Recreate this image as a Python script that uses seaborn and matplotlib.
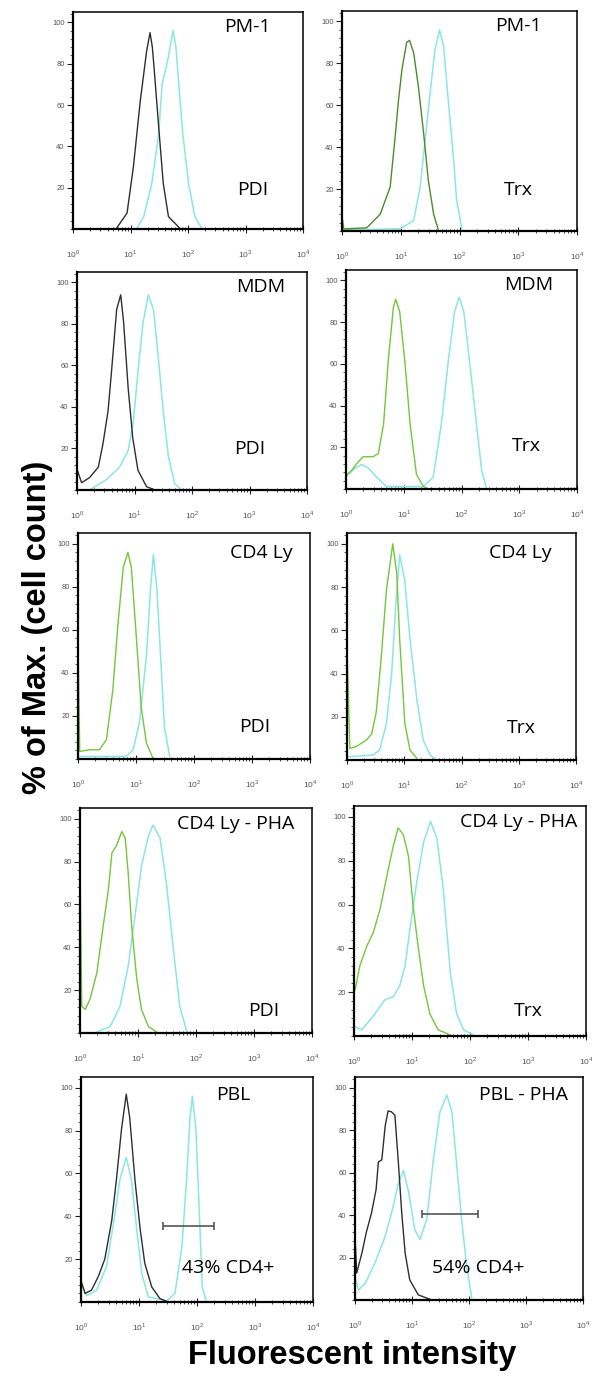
import numpy as np
import matplotlib
matplotlib.use("Agg")
import matplotlib.pyplot as plt
from matplotlib.ticker import LogLocator, NullFormatter, MultipleLocator
import seaborn as sns

# x values are in decades of fluorescence (log10), y values are % of max

# PM-1 / PDI
pm1_pdi_ctrl_dec = [0.76, 0.94, 1.05, 1.17, 1.28, 1.34, 1.38, 1.41, 1.50, 1.57, 1.66, 1.86]
pm1_pdi_ctrl_pct = [0.5, 7.7, 30, 62, 86, 95, 88, 78, 46, 22, 6, 0.3]
pm1_pdi_stain_dec = [1.11, 1.23, 1.37, 1.49, 1.55, 1.65, 1.74, 1.79, 1.84, 1.91, 2.01,
                     2.12, 2.24]
pm1_pdi_stain_pct = [0.3, 6, 22, 46, 70, 82, 96, 88, 70, 46, 22, 6, 0.3]

# PM-1 / Trx
pm1_trx_ctrl_dec = [0.0, 0.03, 0.42, 0.65, 0.82, 0.91, 0.96, 1.02, 1.10, 1.15, 1.22,
                    1.30, 1.39, 1.47, 1.56, 1.64]
pm1_trx_ctrl_pct = [7, 1, 1.5, 8, 21, 46.5, 62, 77, 90, 91, 85, 69, 46.5, 24, 8, 0.5]
pm1_trx_stain_dec = [0.0, 0.99, 1.22, 1.33, 1.41, 1.50, 1.58, 1.66, 1.73, 1.81, 1.90,
                     1.95, 2.04]
pm1_trx_stain_pct = [0.5, 1, 5, 21, 42, 66, 86, 96, 88, 62, 34, 15, 1]

# MDM / PDI
mdm_pdi_ctrl_dec = [0.0, 0.08, 0.22, 0.37, 0.45, 0.54, 0.60, 0.69, 0.76, 0.81, 0.89,
                    0.97, 1.06, 1.21, 1.33]
mdm_pdi_ctrl_pct = [10, 3.5, 6, 11, 22, 38, 57, 87, 94, 81, 49, 25, 9.5, 1.6, 0.3]
mdm_pdi_stain_dec = [0.22, 0.51, 0.74, 0.89, 0.98, 1.06, 1.15, 1.24, 1.33, 1.41, 1.50,
                     1.59, 1.70, 1.81]
mdm_pdi_stain_pct = [0, 5, 11, 19, 33, 57, 81, 94, 87, 65, 38, 16, 3, 0.3]

# MDM / Trx
mdm_trx_ctrl_dec = [0.02, 0.10, 0.21, 0.30, 0.47, 0.56, 0.65, 0.73, 0.82, 0.86, 0.93,
                    1.02, 1.11, 1.22, 1.34, 1.42]
mdm_trx_ctrl_pct = [7, 9, 13, 15.5, 15.5, 17, 31, 61, 87, 91, 85, 61, 31, 7, 1.2, 0.2]
mdm_trx_stain_dec = [0.02, 0.16, 0.27, 0.39, 0.53, 0.70, 1.34, 1.51, 1.65, 1.77, 1.88,
                     1.96, 2.04, 2.14, 2.26, 2.35, 2.43]
mdm_trx_stain_pct = [6.5, 10, 11.7, 10, 5.7, 1.2, 1.2, 5.7, 31, 61, 85, 92, 85, 61, 31,
                     8.7, 0.5]

# CD4 Ly / PDI
cd4_pdi_ctrl_dec = [0.0, 0.03, 0.20, 0.37, 0.49, 0.60, 0.69, 0.78, 0.86, 0.92, 1.01,
                    1.09, 1.18, 1.29]
cd4_pdi_ctrl_pct = [54, 3.5, 4.3, 4.3, 9, 32, 63, 89, 96, 89, 55, 24, 7.4, 0.5]
cd4_pdi_stain_dec = [0.02, 0.83, 0.95, 1.06, 1.18, 1.25, 1.30, 1.36, 1.44, 1.49, 1.58]
cd4_pdi_stain_pct = [1.2, 1.2, 4.3, 17, 48, 79, 95, 79, 40, 15, 1.2]

# CD4 Ly / Trx
cd4_trx_ctrl_dec = [0.0, 0.05, 0.16, 0.34, 0.43, 0.51, 0.60, 0.69, 0.80, 0.87, 0.92,
                    1.01, 1.10, 1.22]
cd4_trx_ctrl_pct = [52, 5.4, 6.2, 9.3, 12, 22, 48, 79, 100, 86, 56, 17, 4.6, 0.8]
cd4_trx_stain_dec = [0.02, 0.46, 0.57, 0.69, 0.78, 0.85, 0.92, 1.01, 1.10, 1.22, 1.33,
                     1.45, 1.54]
cd4_trx_stain_pct = [1.5, 2.3, 4.6, 17, 40, 71, 95, 83, 56, 28, 9.3, 2.3, 0.5]

# CD4 Ly - PHA / PDI
pha_pdi_ctrl_dec = [0.0, 0.03, 0.09, 0.17, 0.29, 0.40, 0.49, 0.55, 0.63, 0.72, 0.78,
                    0.83, 0.89, 0.98, 1.06, 1.18, 1.32]
pha_pdi_ctrl_pct = [77, 12.5, 11, 15.6, 28, 50, 67, 84, 87.5, 94, 91, 75, 50, 25, 11,
                    3, 0.5]
pha_pdi_stain_dec = [0.29, 0.52, 0.69, 0.83, 0.95, 1.06, 1.18, 1.26, 1.38, 1.49, 1.61,
                     1.72, 1.84]
pha_pdi_stain_pct = [0.5, 3, 12.5, 31, 55, 78, 92, 97, 91, 70, 39, 12.5, 0.8]

# CD4 Ly - PHA / Trx
pha_trx_ctrl_dec = [0.02, 0.10, 0.22, 0.33, 0.45, 0.59, 0.68, 0.76, 0.85, 0.94, 1.02,
                    1.11, 1.20, 1.31, 1.45, 1.66]
pha_trx_ctrl_pct = [21, 32, 41, 47, 58, 76, 87, 95, 92, 82, 59, 40, 23, 10, 2.8, 0.5]
pha_trx_stain_dec = [0.02, 0.13, 0.33, 0.53, 0.68, 0.79, 0.88, 0.97, 1.08, 1.20, 1.32,
                     1.43, 1.54, 1.66, 1.77, 1.89, 2.06]
pha_trx_stain_pct = [4.3, 2.8, 9, 16.5, 18, 23, 32, 50, 70, 88.5, 98, 90, 67, 29, 10,
                     2.8, 0.5]

# PBL (CD4 gate)
pbl_ctrl_dec = [0.0, 0.07, 0.18, 0.30, 0.41, 0.53, 0.61, 0.70, 0.78, 0.84, 0.93, 1.02,
                1.10, 1.22, 1.36, 1.48]
pbl_ctrl_pct = [10, 4, 5.5, 12, 20, 38, 57, 81, 97, 86, 57, 34, 18, 7, 1.6, 0.3]
pbl_stain_dec = [0.0, 0.10, 0.27, 0.44, 0.59, 0.67, 0.78, 0.87, 0.96, 1.05, 1.16, 1.48,
                 1.62, 1.74, 1.82, 1.88, 1.92, 1.98, 2.04, 2.09, 2.16]
pbl_stain_pct = [8.6, 3, 5.5, 16.5, 42, 57, 67.5, 57, 34, 13, 2.4, 0.5, 4, 26, 57, 86,
                 96, 81, 42, 7, 0.3]

# PBL - PHA (CD4 gate)
pblpha_ctrl_dec = [0.0, 0.03, 0.12, 0.20, 0.29, 0.37, 0.41, 0.47, 0.53, 0.58, 0.64,
                   0.70, 0.76, 0.82, 0.88, 0.96, 1.11, 1.32]
pblpha_ctrl_pct = [30, 12.7, 22, 32, 41, 52, 65, 66, 82, 89, 88.6, 87, 65, 41, 22, 9.5,
                   2.4, 0.3]
pblpha_stain_dec = [0.0, 0.06, 0.18, 0.35, 0.53, 0.67, 0.76, 0.85, 0.94, 1.05, 1.14,
                    1.26, 1.37, 1.49, 1.61, 1.70, 1.78, 1.87, 1.96, 2.05]
pblpha_stain_pct = [11, 4.7, 7.9, 17.4, 30, 44, 55, 61, 51, 33, 28.5, 38, 65, 88.6,
                    96.5, 88.6, 65, 38, 15.8, 0.8]

# gates (start decade, end decade, height) and percentages
pbl_gate = [1.42, 2.29, 35.3]
pblpha_gate = [1.17, 2.16, 40.3]
gate_labels = ["43% CD4+", "54% CD4+"]

cell_labels = ["PM-1", "PM-1", "MDM", "MDM", "CD4 Ly", "CD4 Ly",
               "CD4 Ly - PHA", "CD4 Ly - PHA", "PBL", "PBL - PHA"]
stain_labels = ["PDI", "Trx", "PDI", "Trx", "PDI", "Trx", "PDI", "Trx", None, None]

CYAN = "#8ae6e4"
DARK = "#2e2e2e"
GREEN = "#74c63c"
OLIVE = "#4e8a2c"

panels = [
    (pm1_pdi_ctrl_dec, pm1_pdi_ctrl_pct, DARK, pm1_pdi_stain_dec, pm1_pdi_stain_pct),
    (pm1_trx_ctrl_dec, pm1_trx_ctrl_pct, OLIVE, pm1_trx_stain_dec, pm1_trx_stain_pct),
    (mdm_pdi_ctrl_dec, mdm_pdi_ctrl_pct, DARK, mdm_pdi_stain_dec, mdm_pdi_stain_pct),
    (mdm_trx_ctrl_dec, mdm_trx_ctrl_pct, GREEN, mdm_trx_stain_dec, mdm_trx_stain_pct),
    (cd4_pdi_ctrl_dec, cd4_pdi_ctrl_pct, GREEN, cd4_pdi_stain_dec, cd4_pdi_stain_pct),
    (cd4_trx_ctrl_dec, cd4_trx_ctrl_pct, GREEN, cd4_trx_stain_dec, cd4_trx_stain_pct),
    (pha_pdi_ctrl_dec, pha_pdi_ctrl_pct, GREEN, pha_pdi_stain_dec, pha_pdi_stain_pct),
    (pha_trx_ctrl_dec, pha_trx_ctrl_pct, GREEN, pha_trx_stain_dec, pha_trx_stain_pct),
    (pbl_ctrl_dec, pbl_ctrl_pct, DARK, pbl_stain_dec, pbl_stain_pct),
    (pblpha_ctrl_dec, pblpha_ctrl_pct, DARK, pblpha_stain_dec, pblpha_stain_pct),
]

# axes boxes in pixels (left, right, top, bottom) and label placements
W, H = 600, 1379
boxes = [(73, 303, 12, 229), (342, 577, 11, 231),
         (77, 307, 272, 490), (346, 577, 270, 489),
         (78, 310, 533, 759), (347, 576, 533, 760),
         (80, 312, 808, 1033), (354, 586, 806, 1036),
         (81, 313, 1077, 1302), (355, 583, 1077, 1300)]
title_pos = [(0.76, 0.93), (0.75, 0.93), (0.80, 0.93), (0.79, 0.93), (0.79, 0.91),
             (0.755, 0.91), (0.67, 0.93), (0.71, 0.93), (0.655, 0.92), (0.74, 0.92)]
stain_pos = [(0.78, 0.18), (0.75, 0.185), (0.75, 0.19), (0.78, 0.195), (0.76, 0.14),
             (0.76, 0.14), (0.79, 0.10), (0.75, 0.11), None, None]
gate_text_pos = [(0.635, 0.15), (0.54, 0.145)]

sns.set_style("ticks")
plt.rcParams["font.family"] = ["Liberation Sans", "DejaVu Sans"]
plt.rcParams["text.color"] = "black"
plt.rcParams["mathtext.fontset"] = "custom"
plt.rcParams["mathtext.rm"] = "Liberation Sans"

fig = plt.figure(figsize=(6, 13.79), dpi=100)

for i, (cx, cy, ccol, sx, sy) in enumerate(panels):
    l, r, t, b = boxes[i]
    ax = fig.add_axes([l / W, 1 - b / H, (r - l) / W, (b - t) / H])
    sns.lineplot(x=10 ** np.asarray(sx), y=sy, ax=ax, color=CYAN, lw=1.1,
                 sort=False, estimator=None)
    sns.lineplot(x=10 ** np.asarray(cx), y=cy, ax=ax, color=ccol, lw=1.0,
                 sort=False, estimator=None)
    ax.set_xscale("log")
    ax.set_xlim(1, 1e4)
    ax.set_ylim(0, 105)
    ax.set_xticks([1, 10, 100, 1000, 10000])
    ax.set_xticklabels(["$10^{%d}$" % k for k in range(5)])
    ax.xaxis.set_minor_locator(LogLocator(base=10, subs=np.arange(2, 10)))
    ax.xaxis.set_minor_formatter(NullFormatter())
    ax.set_yticks([20, 40, 60, 80, 100])
    ax.yaxis.set_minor_locator(MultipleLocator(4))
    ax.tick_params(axis="x", which="major", direction="inout", length=6, width=0.8,
                   pad=11, labelsize=6, labelcolor="#555555", color="#222222")
    ax.tick_params(axis="x", which="minor", direction="inout", length=3, width=0.6,
                   color="#222222")
    ax.tick_params(axis="y", which="major", direction="out", length=4, width=0.8,
                   pad=2, labelsize=5.5, labelcolor="#555555", color="#222222")
    ax.tick_params(axis="y", which="minor", direction="out", length=2, width=0.5,
                   color="#222222")
    for side in ["top", "right"]:
        ax.spines[side].set_linewidth(1.1)
        ax.spines[side].set_color("black")
    for side in ["left", "bottom"]:
        ax.spines[side].set_linewidth(1.6)
        ax.spines[side].set_color("black")
    ax.set_xlabel("")
    ax.set_ylabel("")

    tx, ty = title_pos[i]
    ax.text(tx, ty, cell_labels[i], transform=ax.transAxes, ha="center", va="center",
            fontsize=14, family="Open Sans", color="black")
    if stain_labels[i] is not None:
        px, py = stain_pos[i]
        ax.text(px, py, stain_labels[i], transform=ax.transAxes, ha="center",
                va="center", fontsize=14, family="Open Sans", color="black")
    else:
        g = i - 8
        gate = [pbl_gate, pblpha_gate][g]
        mid = 10 ** ((gate[0] + gate[1]) / 2)
        ax.errorbar([mid], [gate[2]],
                    xerr=[[mid - 10 ** gate[0]], [10 ** gate[1] - mid]],
                    fmt="none", ecolor="#555555", elinewidth=1.2, capsize=3,
                    capthick=1.2)
        gx, gy = gate_text_pos[g]
        ax.text(gx, gy, gate_labels[g], transform=ax.transAxes, ha="center",
                va="center", fontsize=14, family="Open Sans", color="black")

fig.text(0.063, 0.545, "% of Max. (cell count)", rotation=90, ha="center",
         va="center", fontsize=23.5, fontweight="bold", color="black")
fig.text(0.587, 0.0174, "Fluorescent intensity", ha="center", va="center",
         fontsize=23.5, fontweight="bold", color="black")

fig.savefig("out.png", dpi=100)
